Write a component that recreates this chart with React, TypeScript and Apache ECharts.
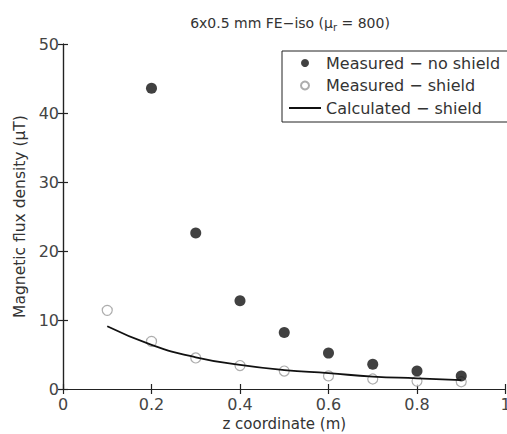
import React, { useEffect, useRef } from "react";
import * as echarts from "echarts";

const zNoShield = [0.2, 0.3, 0.4, 0.5, 0.6, 0.7, 0.8, 0.9];
const measuredNoShield = [43.6, 22.6, 12.8, 8.2, 5.2, 3.6, 2.6, 1.9];
const zShield = [0.1, 0.2, 0.3, 0.4, 0.5, 0.6, 0.7, 0.8, 0.9];
const measuredShield = [11.4, 6.9, 4.5, 3.4, 2.6, 1.9, 1.45, 1.15, 1.05];
const calculatedShield = [9.1, 6.4, 4.6, 3.5, 2.75, 2.3, 1.8, 1.55, 1.3];
const seriesNames = ["Measured \u2212 no shield", "Measured \u2212 shield", "Calculated \u2212 shield"];

const FONT = "DejaVu Sans";

export default function App() {
  const ref = useRef<HTMLDivElement>(null);
  useEffect(() => {
    if (!ref.current) return;
    const chart = echarts.init(ref.current, undefined, { renderer: "svg" });
    const axisLine = { show: true, lineStyle: { color: "#222", width: 1.2 } };
    const tick = { show: true, inside: true, length: 5, lineStyle: { color: "#222", width: 1.2 } };
    chart.setOption({
      animation: false,
      backgroundColor: "#fff",
      title: {
        text: "6x0.5 mm FE\u2212iso (\u03bc{sub|r} = 800)",
        left: 285,
        textAlign: "center",
        top: 8,
        textStyle: {
          fontFamily: FONT,
          fontSize: 14,
          fontWeight: "normal",
          color: "#333",
          rich: {
            sub: { fontFamily: FONT, fontSize: 10, color: "#333", verticalAlign: "bottom", padding: [9, 0, 0, 0] },
          },
        },
      },
      grid: { left: 63, top: 44, width: 442.5, height: 345, containLabel: false, outerBoundsMode: "none" },
      legend: {
        orient: "vertical",
        left: 282,
        top: 51,
        padding: [4, 10, 6, 6],
        itemWidth: 32,
        itemHeight: 8,
        itemGap: 6.5,
        backgroundColor: "#fff",
        borderColor: "#222",
        borderWidth: 1,
        borderRadius: 0,
        textStyle: { fontFamily: FONT, fontSize: 16, color: "#333", lineHeight: 16 },
        data: [
          { name: seriesNames[0] },
          { name: seriesNames[1] },
          { name: seriesNames[2], itemStyle: { opacity: 0 } },
        ],
      },
      xAxis: [
        {
          type: "value",
          min: 0,
          max: 1,
          interval: 0.2,
          position: "bottom",
          name: "z coordinate (m)",
          nameLocation: "middle",
          nameGap: 27,
          nameTextStyle: { fontFamily: FONT, fontSize: 15, color: "#333" },
          axisLine,
          axisTick: tick,
          splitLine: { show: false },
          axisLabel: {
            fontFamily: FONT,
            fontSize: 16,
            color: "#444",
            margin: 7,
            formatter: (v: number) => String(Math.round(v * 10) / 10),
          },
        },
        {
          type: "value",
          min: 0,
          max: 1,
          interval: 0.2,
          position: "top",
          axisLine,
          axisTick: tick,
          splitLine: { show: false },
          axisLabel: { show: false },
        },
      ],
      yAxis: [
        {
          type: "value",
          min: 0,
          max: 50,
          interval: 10,
          position: "left",
          name: "Magnetic flux density (\u03bcT)",
          nameLocation: "middle",
          nameGap: 24,
          nameTextStyle: { fontFamily: FONT, fontSize: 15.5, color: "#333" },
          axisLine,
          axisTick: tick,
          splitLine: { show: false },
          axisLabel: { fontFamily: FONT, fontSize: 16, color: "#444", margin: 4 },
        },
        {
          type: "value",
          min: 0,
          max: 50,
          interval: 10,
          position: "right",
          axisLine,
          axisTick: tick,
          splitLine: { show: false },
          axisLabel: { show: false },
        },
      ],
      series: [
        {
          name: seriesNames[0],
          type: "scatter",
          symbol: "circle",
          symbolSize: 11,
          itemStyle: { color: "#111" },
          data: zNoShield.map((z, i) => [z, measuredNoShield[i]]),
          z: 3,
        },
        {
          name: seriesNames[1],
          type: "scatter",
          symbol: "circle",
          symbolSize: 10,
          itemStyle: { color: "#fff", borderColor: "#999", borderWidth: 1.2 },
          data: zShield.map((z, i) => [z, measuredShield[i]]),
          z: 2,
        },
        {
          name: seriesNames[2],
          type: "line",
          smooth: true,
          symbol: "none",
          showSymbol: false,
          lineStyle: { color: "#111", width: 1.8 },
          itemStyle: { color: "#111" },
          data: zShield.map((z, i) => [z, calculatedShield[i]]),
          z: 4,
        },
      ],
    });
    return () => chart.dispose();
  }, []);
  return (
    <div
      ref={ref}
      style={{ position: "fixed", left: 0, top: 0, width: 507, height: 434, background: "#fff" }}
    />
  );
}
